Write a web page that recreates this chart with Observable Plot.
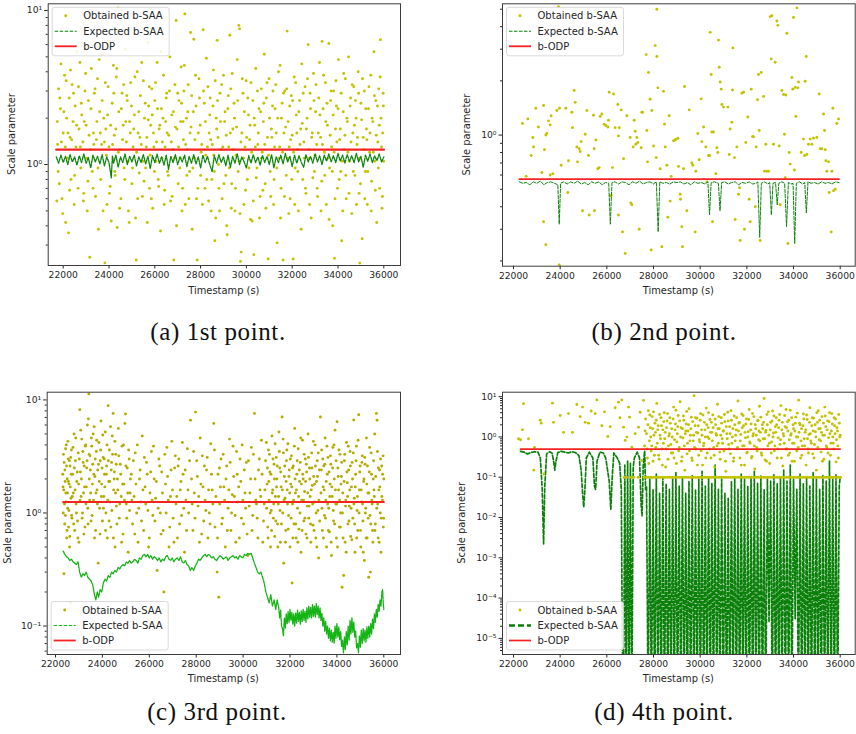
<!DOCTYPE html>
<html><head><meta charset="utf-8">
<script src="https://cdn.jsdelivr.net/npm/d3@7"></script>
<script src="https://cdn.jsdelivr.net/npm/@observablehq/plot@0.6"></script>
<style>
body{margin:0;background:#fff;}
#fig{position:relative;width:856px;height:734px;background:#fff;overflow:hidden;}
.panel{position:absolute;width:428px;height:300px;}
.panel svg{position:absolute;left:0;top:0;overflow:visible;}
.cap{position:absolute;font-family:"Liberation Serif","DejaVu Serif",serif;font-size:25px;letter-spacing:0.6px;color:#111;transform:translate(-50%,-50%);white-space:nowrap;}
</style></head><body><div id="fig"></div>
<script>
// ---------------- DATA ----------------
const legendLabels = ["Obtained b-SAA", "Expected b-SAA", "b-ODP"];
const xLabel = "Timestamp (s)";
const yLabel = "Scale parameter";
const captions = ["(a) 1st point.", "(b) 2nd point.", "(c) 3rd point.", "(d) 4th point."];
const xTicks = [22000, 24000, 26000, 28000, 30000, 32000, 34000, 36000];

// (a) 1st point
const aObtained = [[21720,0.58],[21760,1.35],[21800,3.1],[21830,0.75],[21880,2.3],[21900,4.5],[21950,0.6],[22000,1.6],[22060,3.8],[22110,0.42],[22150,2.0],[22190,1.1],
[22230,0.36],[22260,2.7],[22300,1.5],[22340,0.8],[22390,3.3],[22430,1.9],[22480,0.55],[22520,2.4],[22560,1.3],[22610,5.4],[22650,0.7],[22690,1.7],
[22730,4.6],[22770,0.95],[22810,2.1],[22860,1.4],[22900,0.65],[22950,3.0],[23000,1.8],[23050,0.5],[23100,2.6],[23160,0.25],[23190,1.25],
[23230,4.2],[23270,0.9],[23320,1.6],[23360,2.9],[23410,0.62],[23450,1.45],[23500,3.6],[23540,0.38],[23590,2.2],[23640,0.8],[23680,1.35],
[23720,5.2],[23770,2.0],[23820,0.23],[23860,1.7],[23910,0.55],[23960,3.2],[24000,1.3],[24050,0.72],[24100,0.43],[24140,2.5],[24190,4.4],
[24230,1.55],[24270,0.85],[24320,3.7],[24360,0.39],[24390,10.4],[24430,2.2],[24480,1.25],[24520,0.6],[24570,2.9],[24620,1.8],[24660,0.95],
[24710,5.6],[24760,1.4],[24800,2.6],[24850,0.5],[24900,1.9],[24950,3.4],[25000,0.75],[25050,1.3],[25110,2.1],[25160,0.45],[25190,0.24],
[25230,4.0],[25270,1.6],[25320,0.88],[25370,2.8],[25410,1.35],[25460,0.62],[25500,3.5],[25550,2.0],[25600,0.95],[25650,1.5],[25690,6.2],
[25730,2.4],[25770,0.7],[25820,1.8],[25870,3.1],[25910,0.52],[25960,1.3],[26000,2.6],[26050,1.05],[26100,4.6],[26150,0.8],[26190,1.7],
[26250,0.37],[26290,2.3],[26330,1.4],[26380,3.8],[26430,0.68],[26470,1.9],[26520,2.9],[26560,0.9],[26610,1.55],[26660,5.0],[26690,0.58],
[26740,2.1],[26790,1.25],[26830,0.24],[26880,3.3],[26930,8.6],[26970,1.7],[27020,0.75],[27060,2.6],[27110,1.1],[27150,4.3],[27190,0.5],
[27230,1.9],[27270,3.0],[27310,9.5],[27350,1.35],[27400,0.85],[27440,2.2],[27490,0.6],[27540,1.6],[27560,7.2],[27610,2.8],[27660,0.95],[27705,6.5],
[27750,1.45],[27800,2.4],[27850,0.24],[27880,0.7],[27930,3.6],[27980,1.8],[28030,1.2],[28080,0.55],[28112,7.5],[28160,2.5],
[28230,1.15],[28270,0.8],[28320,3.2],[28370,1.6],[28420,2.7],[28460,0.5],[28510,1.35],[28560,4.1],[28600,0.9],[28622,0.32],[28680,2.0],
[28723,6.4],[28760,1.5],[28800,0.7],[28850,2.9],[28900,1.25],[28940,0.6],[29000,3.8],[29050,1.9],[29100,0.85],[29160,0.35],[29190,2.3],
[29230,1.3],[29276,6.9],[29320,3.1],[29360,0.75],[29410,1.7],[29460,2.5],[29500,0.5],[29550,1.15],[29600,4.8],[29640,0.9],[29669,8.0],[29700,7.6],
[29742,0.235],[29771,0.27],[29800,1.6],[29850,2.9],[29890,0.55],[29940,1.3],[29990,3.5],[30040,0.8],[30090,2.1],[30140,1.45],[30180,0.44],
[30251,0.43],[30280,2.6],[30324,0.26],[30360,1.8],[30410,4.2],[30460,0.95],[30500,1.35],[30550,2.3],[30600,0.62],[30650,3.1],[30690,1.2],
[30740,1.9],[30780,5.2],[30820,0.75],[30870,2.7],[30920,1.5],[30950,0.244],[30990,3.6],[31040,0.9],[31090,1.7],[31140,2.4],[31190,0.55],
[31230,1.3],[31280,3.3],[31343,0.31],[31370,2.0],[31420,1.1],[31470,4.4],[31510,0.7],[31560,2.5],[31600,0.24],[31640,1.6],[31680,3.0],
[31740,0.85],[31780,7.35],[31820,1.9],[31870,1.3],[31910,0.6],[31960,2.8],[32000,1.55],[32042,0.244],[32090,3.7],[32130,0.95],[32180,2.1],
[32230,1.25],[32270,0.5],[32320,2.6],[32370,1.7],[32420,4.5],[32460,0.8],[32510,1.4],[32560,3.2],[32600,0.65],[32650,2.0],[32697,6.0],
[32740,1.1],[32780,2.9],[32830,0.45],[32880,1.6],[32930,3.9],[32970,0.9],[33020,2.2],[33070,1.35],[33110,0.62],[33160,2.7],[33190,4.6],
[33240,1.5],[33290,0.78],[33307,6.3],[33350,2.3],[33400,1.2],[33450,3.4],[33490,0.55],[33540,1.8],[33598,6.1],[33630,0.95],[33680,2.6],
[33720,1.3],[33770,0.4],[33810,3.0],[33846,0.246],[33890,1.7],[33930,2.4],[33980,0.7],[34020,4.8],[34070,1.45],[34120,0.9],[34163,0.32],
[34230,2.2],[34270,1.25],[34320,3.6],[34360,0.6],[34410,1.9],[34460,5.0],[34500,1.05],[34550,2.7],[34600,0.48],[34650,1.6],[34690,3.2],
[34740,0.85],[34790,2.0],[34830,1.35],[34880,4.0],[34920,0.65],[34952,0.229],[35000,2.5],[35054,0.33],[35100,1.5],[35150,3.0],[35190,0.9],
[35240,1.7],[35280,0.55],[35330,2.3],[35380,1.2],[35430,3.8],[35470,0.78],[35520,1.9],[35570,5.4],[35610,1.05],[35650,2.6],[35690,0.42],
[35740,1.4],[35780,3.1],[35820,0.7],[35855,6.45],[35880,2.0],[35920,0.52],[35950,1.6],[35980,2.4]];
const aObtainedMore = [[21740,1.9],[21780,0.9],[21850,2.7],[21920,1.4],[21980,0.48],[22030,2.2],[22090,1.3],[22130,3.5],
[22210,1.6],[22280,0.68],[22320,4.1],[22370,1.45],[22450,2.9],[22500,0.85],[22590,1.8],[22670,3.2],
[22750,1.3],[22790,2.5],[22880,0.58],[22920,1.9],[22980,3.9],[23030,1.1],[23080,0.78],[23130,1.55],
[23210,2.3],[23300,0.7],[23340,1.35],[23390,3.1],[23470,1.9],[23520,0.95],[23570,4.8],[23620,1.6],
[23700,2.6],[23740,0.5],[23800,1.4],[23840,3.4],[23890,1.15],[23940,2.1],[24020,0.65],[24070,1.8],
[24160,1.35],[24210,2.9],[24250,0.9],[24300,1.7],[24340,4.2],[24410,1.2],[24460,0.52],[24540,2.3],
[24590,1.45],[24640,3.3],[24690,0.8],[24730,1.9],[24780,2.8],[24830,1.05],[24880,0.42],[24930,1.6],
[24980,2.4],[25030,0.95],[25080,1.7],[25130,3.7],[25210,1.2],[25250,0.6],[25300,2.2],[25350,1.5],
[25430,4.6],[25480,1.05],[25530,0.78],[25580,2.5],[25630,1.3],[25670,0.42],[25710,1.95],[25760,3.2],
[25800,1.15],[25850,0.6],[25890,2.1],[25940,1.6],[25990,0.9],[26030,3.4],[26080,1.4],[26120,2.3],
[26170,0.72],[26220,1.8],[26270,5.4],[26310,1.1],[26360,2.0],[26410,0.55],[26450,1.3],[26500,2.7],
[26540,1.6],[26590,0.85],[26640,3.0],[26720,1.4],[26760,0.62],[26810,2.2],[26860,1.1],[26900,1.75],
[26950,0.4],[27000,2.9],[27040,1.3],[27090,0.95],[27130,1.9],[27170,2.5],[27210,0.7],[27250,1.45],
[27290,4.4],[27330,0.55],[27380,2.0],[27420,1.25],[27460,3.3],[27520,0.9],[27580,1.75],[27630,0.38],
[27680,2.2],[27730,1.1],[27780,3.8],[27820,0.6],[27900,1.6],[27950,2.7],[28000,0.85],[28050,1.35],
[28130,3.0],[28190,0.7],[28210,1.9],[28250,4.9],[28300,1.3],[28350,0.58],[28400,2.1],[28440,1.45],
[28490,0.8],[28540,2.4],[28580,1.15],[28640,3.5],[28660,0.45],[28700,1.7],[28740,2.6],[28780,1.0],
[28830,0.5],[28870,1.9],[28920,3.3],[28970,1.3],[29020,0.75],[29070,2.2],[29120,1.55],[29140,0.4],
[29210,2.8],[29250,0.95],[29300,1.6],[29340,0.52],[29380,3.9],[29430,1.25],[29480,2.0],[29520,0.7],
[29570,1.75],[29620,2.6],[29680,1.05],[29720,0.48],[29760,1.4],[29820,3.6],[29870,1.1],[29910,2.2],
[29960,0.68],[30010,1.5],[30060,2.7],[30110,0.95],[30160,1.8],[30200,3.4],[30230,1.2],[30300,0.58],
[30340,2.0],[30390,1.3],[30430,0.82],[30480,3.0],[30520,1.6],[30570,0.45],[30620,2.2],[30670,1.1],
[30720,0.68],[30760,2.5],[30800,1.35],[30850,0.52],[30900,3.4],[30970,1.15],[31010,2.0],[31060,0.62],
[31110,1.5],[31160,3.0],[31210,0.8],[31250,2.3],[31300,1.6],[31330,0.95],[31400,4.0],[31450,1.3],
[31490,0.45],[31530,2.0],[31580,1.2],[31620,2.9],[31660,0.62],[31710,1.75],[31760,3.1],[31800,1.1],
[31850,0.48],[31890,2.4],[31930,1.45],[31980,0.8],[32020,2.6],[32060,1.2],[32110,0.55],[32150,3.4],
[32200,1.6],[32250,0.9],[32290,2.2],[32340,1.35],[32390,0.38],[32440,1.85],[32480,2.9],[32530,1.1],
[32580,0.7],[32620,1.7],[32670,3.6],[32720,1.25],[32760,0.55],[32800,2.3],[32850,1.5],[32900,0.82],
[32950,2.6],[33000,1.15],[33040,3.3],[33090,0.7],[33140,1.6],[33210,2.1],[33260,0.5],[33320,1.35],
[33370,3.8],[33420,0.85],[33470,1.9],[33520,2.5],[33560,1.1],[33610,0.44],[33660,1.55],[33700,3.0],
[33750,0.9],[33790,2.1],[33830,1.2],[33870,0.6],[33910,3.5],[33950,1.4],[34000,2.3],[34050,0.8],
[34100,1.7],[34140,2.9],[34190,1.05],[34210,0.5],[34250,3.9],[34300,1.55],[34340,0.85],[34390,2.0],
[34430,1.2],[34480,0.65],[34530,2.4],[34570,1.4],[34620,3.3],[34670,0.9],[34720,1.8],[34760,2.6],
[34810,0.55],[34850,1.5],[34900,2.9],[34940,1.1],[34980,0.75],[35030,1.95],[35070,3.6],[35120,1.25],
[35170,0.6],[35210,2.3],[35260,1.45],[35300,0.9],[35350,3.2],[35400,1.6],[35450,0.5],[35490,2.0],
[35540,1.2],[35590,2.8],[35630,0.68],[35670,1.55],[35720,2.4],[35760,0.95],[35800,1.8],[35840,3.7],
[35900,1.3],[35940,0.62],[35970,2.9],[35990,1.05]];
const aExpected = [[21700,1.12],[21800,1.02],[21900,1.15],[22000,1.03],[22100,1.13],[22200,1.0],[22300,1.16],[22400,1.04],[22500,1.12],[22600,0.99],[22700,1.14],[22800,1.03],[22900,1.17],[23000,1.02],[23100,1.11],[23200,0.95],[23300,1.15],[23400,1.04],[23500,1.13],[23600,1.01],[23700,1.16],[23800,0.98],[23900,1.12],[24000,1.03],[24100,0.82],[24150,1.14],[24200,1.02],[24300,1.15],[24400,0.96],[24500,1.12],[24600,1.03],[24700,1.17],[24800,1.0],[24900,1.13],[25000,1.04],[25100,1.15],[25200,0.98],[25300,1.12],[25400,1.03],[25500,1.16],[25600,1.01],[25700,1.13],[25800,0.94],[25900,1.14],[26000,1.03],[26100,1.17],[26200,1.02],[26300,1.12],[26400,0.99],[26500,1.15],[26600,0.93],[26700,1.13],[26800,1.03],[26900,1.16],[27000,1.0],[27100,1.12],[27200,1.04],[27300,1.15],[27400,0.97],[27500,1.13],[27600,1.02],[27700,1.16],[27800,1.01],[27900,1.12],[28000,0.95],[28100,1.15],[28200,1.03],[28300,1.13],[28400,1.0],[28500,0.9],[28600,1.14],[28700,1.02],[28800,1.16],[28900,1.03],[29000,1.12],[29100,0.98],[29200,1.15],[29300,0.96],[29400,1.13],[29500,1.02],[29600,1.17],[29700,1.0],[29800,1.12],[29900,1.04],[30000,0.95],[30100,1.14],[30200,1.02],[30300,1.16],[30400,1.03],[30500,1.12],[30600,0.99],[30700,1.15],[30800,1.03],[30900,1.13],[31000,1.0],[31100,1.16],[31200,0.95],[31300,1.12],[31400,1.03],[31500,1.15],[31600,1.01],[31700,1.18],[31800,1.04],[31900,1.13],[32000,0.97],[32100,1.15],[32200,1.02],[32300,1.14],[32400,1.03],[32500,0.96],[32600,1.16],[32700,1.04],[32800,1.13],[32900,1.02],[33000,1.17],[33100,1.04],[33200,1.14],[33300,1.0],[33400,1.15],[33500,1.05],[33600,1.17],[33700,1.04],[33800,1.14],[33900,1.03],[34000,1.18],[34100,1.05],[34200,1.15],[34300,1.02],[34400,1.16],[34500,1.05],[34600,1.14],[34700,1.03],[34800,1.18],[34900,1.04],[35000,1.13],[35100,0.96],[35200,1.15],[35300,1.05],[35400,1.17],[35500,1.03],[35600,1.14],[35700,1.06],[35800,1.17],[35900,1.04],[36000,1.12]];
const aODP = [[21700,1.25],[36000,1.25]];

// (b) 2nd point
const bObtained = [[22386,1.16],[22614,1.23],[22543,0.59],[22757,0.77],[22829,0.97],[22857,0.86],[22957,1.41],[23071,1.11],[23214,0.62],[23286,1.46],[23286,0.33],[23329,0.83],[23386,1.0],[23429,1.02],[23500,1.2],[23571,1.14],[23614,1.28],[23386,0.246],[23571,0.6],[23686,0.61],[23857,1.37],[23929,5.17],[23957,0.19],[23971,1.41],[24043,0.68],[24243,1.41],[24329,0.48],[24357,0.72],[24500,1.34],[24529,1.1],[24600,1.77],[24643,1.52],[24714,0.86],[24743,0.71],[24814,0.84],[24857,0.81],[24900,0.92],[24957,0.38],[25071,1.01],[25143,1.37],[25214,0.77],[25243,0.36],[25429,1.29],[25457,0.84],[25471,0.38],[25529,0.94],[25614,0.65],[25671,0.66],[25714,1.27],[25786,1.31],[25886,1.15],[25957,1.13],[26043,1.11],[26071,1.21],[26100,1.73],[26143,0.46],[26186,0.46],[26243,0.66],[26286,1.69],[26357,1.1],[26471,1.48],[26500,0.99],[26529,1.1],[26614,1.38],[26500,0.36],[26671,0.29],[26714,0.74],[26786,0.22],[26857,1.28],[27000,0.97],[27029,0.42],[27071,0.41],[27129,0.86],[27171,1.21],[27214,1.05],[27243,0.89],[27286,0.97],[27329,0.91],[27386,0.3],[27471,0.85],[27500,1.34],[27529,1.34],[27686,2.8],[27714,1.06],[27743,0.71],[27786,2.23],[27857,1.58],[27900,0.23],[27929,1.37],[28000,0.87],[28071,3.14],[28114,0.75],[28143,5.0],[28143,2.73],[28186,1.83],[28286,0.65],[28357,0.24],[28429,1.75],[28471,1.15],[28500,0.86],[28571,0.68],[28614,0.35],[28671,1.28],[28714,0.43],[28757,0.59],[28857,0.93],[28929,0.94],[28957,0.95],[29043,0.96],[29071,0.67],[29143,0.47],[29157,0.44],[29214,0.31],[29243,0.24],[29286,0.65],[29329,1.86],[29429,0.38],[29529,1.38],[29643,0.7],[29686,0.68],[29786,0.29],[29814,0.63],[29900,1.02],[29957,0.73],[30043,1.59],[30071,0.92],[30143,1.11],[30243,0.86],[30286,0.55],[30357,0.77],[30400,0.77],[30429,3.72],[30471,2.17],[30500,1.04],[30529,0.33],[30571,1.04],[30671,0.61],[30714,0.85],[30757,0.8],[30786,3.37],[30814,2.38],[30857,1.97],[30900,1.8],[30929,1.48],[31000,1.43],[31186,1.43],[31243,0.78],[31286,1.08],[31357,1.18],[31386,1.78],[31400,3.05],[31471,0.75],[31500,0.34],[31571,0.86],[31643,0.47],[31686,0.51],[31714,0.26],[31786,1.71],[31857,1.73],[31900,0.3],[31957,0.91],[32000,0.18],[32043,1.26],[32100,0.44],[32143,0.33],[32186,1.8],[32243,0.98],[32286,0.98],[32357,0.4],[32400,0.86],[32457,1.57],[32500,2.17],[32529,1.06],[32571,0.26],[32614,2.23],[32714,1.64],[32757,0.63],[32814,0.89],[32857,0.63],[32929,0.63],[33000,4.55],[33043,2.65],[33071,4.6],[33143,0.89],[33214,2.54],[33286,4.3],[33329,4.07],[33386,0.87],[33429,0.41],[33500,1.77],[33571,1.68],[33614,1.01],[33643,0.58],[33671,1.67],[33714,3.68],[33757,0.25],[33814,0.8],[33857,0.69],[33929,2.09],[33971,1.8],[34000,4.5],[34043,0.64],[34071,1.84],[34100,1.27],[34143,5.09],[34186,1.83],[34214,1.97],[34329,0.8],[34429,0.95],[34471,0.77],[34500,1.99],[34543,2.73],[34571,0.78],[34643,0.89],[34714,0.95],[34786,0.89],[34857,0.96],[35000,0.97],[35100,1.69],[35143,0.84],[35214,0.84],[35286,1.31],[35329,1.06],[35357,0.83],[35386,0.72],[35429,0.63],[35500,0.71],[35529,0.48],[35614,0.29],[35643,0.63],[35686,1.41],[35714,0.49],[35786,0.5],[35857,1.16],[35929,1.23]];
const bExpected = [[22250,0.55],[22400,0.54],[22550,0.545],[22700,0.53],[22850,0.55],[23000,0.54],[23150,0.555],[23300,0.53],[23450,0.545],[23600,0.55],[23750,0.54],[23900,0.53],[23960,0.32],[24020,0.54],[24150,0.55],[24300,0.535],[24450,0.55],[24600,0.54],[24750,0.555],[24900,0.535],[25050,0.545],[25200,0.53],[25350,0.55],[25500,0.54],[25650,0.55],[25800,0.53],[25950,0.545],[26080,0.54],[26150,0.32],[26220,0.545],[26350,0.55],[26500,0.535],[26650,0.55],[26800,0.545],[26950,0.53],[27100,0.55],[27250,0.54],[27400,0.555],[27550,0.535],[27700,0.545],[27850,0.55],[28000,0.535],[28120,0.55],[28200,0.29],[28270,0.55],[28400,0.54],[28550,0.545],[28700,0.535],[28850,0.55],[29000,0.545],[29150,0.55],[29300,0.535],[29450,0.545],[29600,0.53],[29750,0.55],[29900,0.54],[30050,0.545],[30200,0.535],[30330,0.55],[30400,0.36],[30470,0.545],[30600,0.55],[30780,0.54],[30850,0.38],[30920,0.545],[31050,0.55],[31200,0.535],[31350,0.545],[31500,0.55],[31650,0.53],[31800,0.545],[31950,0.54],[32100,0.55],[32250,0.535],[32400,0.54],[32470,0.55],[32550,0.27],[32620,0.54],[32750,0.55],[32900,0.535],[32980,0.545],[33050,0.36],[33120,0.54],[33230,0.545],[33300,0.41],[33370,0.54],[33500,0.55],[33620,0.54],[33700,0.31],[33780,0.545],[33900,0.535],[33980,0.54],[34050,0.25],[34120,0.54],[34250,0.55],[34400,0.535],[34480,0.545],[34550,0.37],[34620,0.55],[34750,0.54],[34900,0.545],[35050,0.535],[35200,0.55],[35350,0.54],[35500,0.545],[35650,0.535],[35800,0.55],[35950,0.545]];
const bODP = [[22250,0.57],[35950,0.57]];

// (c) 3rd point
const cObtained = [[22320,1.7],[22340,3.3],[22360,0.29],[22380,1.2],[22400,2.4],[22420,0.95],[22440,1.5],[22460,4.0],[22480,0.6],[22500,2.0],[22520,1.1],[22540,3.0],[22560,0.75],[22580,1.8],[22600,0.5],[22620,2.6],[22640,0.16],[22660,1.35],[22680,3.6],[22700,0.9],[22730,2.2],[22760,1.5],[22790,5.0],[22820,0.7],[22850,2.9],[22880,1.2],[22910,1.9],[22940,0.85],[22970,3.4],[23000,0.55],[23037,8.2],[23060,2.3],[23090,1.4],[23120,4.5],[23150,1.0],[23180,2.8],[23210,0.65],[23240,1.7],[23270,3.9],[23300,1.2],[23330,2.5],[23360,6.0],[23390,0.8],[23420,11.3],[23440,2.0],[23470,3.2],[23500,1.5],[23530,4.6],[23560,0.95],[23590,2.7],[23620,1.3],[23650,5.8],[23680,2.1],[23710,0.7],[23740,3.5],[23770,1.6],[23800,2.4],[23820,0.36],[23850,4.2],[23880,1.1],[23910,2.9],[23940,6.5],[23970,1.8],[24000,0.85],[24030,3.1],[24060,1.4],[24090,2.2],[24120,5.2],[24150,1.0],[24180,2.6],[24210,0.6],[24245,8.9],[24270,1.9],[24300,3.6],[24330,1.25],[24360,0.75],[24390,2.8],[24420,4.8],[24458,7.6],[24480,1.6],[24510,2.3],[24540,0.5],[24570,3.3],[24600,1.15],[24640,2.0],[24680,5.6],[24720,0.9],[24760,2.7],[24800,1.4],[24840,3.9],[24880,0.65],[24920,1.8],[24960,6.2],[24984,7.5],[25020,1.2],[25060,2.5],[25100,0.45],[25140,3.0],[25180,1.5],
[25230,2.2],[25290,0.8],[25350,1.4],[25400,3.4],[25460,1.0],[25520,0.55],[25580,2.0],[25640,1.25],[25700,4.8],[25760,0.7],[25820,1.7],[25880,2.8],[25940,1.05],[26000,0.6],[26060,2.3],[26120,1.3],[26180,3.9],[26240,0.85],[26300,1.9],[26334,0.31],[26380,1.1],[26440,2.6],[26500,0.65],[26560,1.5],[26620,0.2],[26660,3.3],[26720,1.0],[26780,2.1],[26840,0.5],[26900,1.4],[26960,4.3],[27020,0.9],[27080,2.5],[27140,1.2],[27200,0.6],[27260,3.0],[27320,1.6],[27380,0.95],[27440,2.2],[27500,0.45],[27560,1.3],[27620,3.7],[27680,1.0],[27755,6.6],[27800,2.0],[27860,0.7],[27920,1.5],[27968,7.8],[28020,2.9],[28080,1.15],[28140,0.55],[28200,1.8],[28260,3.2],[28320,0.85],[28380,1.3],[28440,2.4],[28500,0.6],[28560,1.0],[28620,4.1],[28680,1.6],[28750,6.2],[28800,0.75],[28890,0.3],[28930,2.2],[28963,0.18],[29000,1.2],[29060,3.0],[29120,0.9],[29180,1.7],[29240,0.5],[29300,2.6],[29360,1.1],[29420,4.5],[29480,0.7],[29540,1.45],[29600,2.1],[29660,0.95],[29720,3.5],[29780,1.25],[29840,0.6],[29900,1.9],[29960,4.0],[30020,0.8],[30080,1.5],[30140,2.8],[30200,0.42],[30260,1.15],[30320,2.0],[30380,0.7],[30440,3.3],[30485,7.6],[30540,1.3],[30600,0.9],[30660,2.4],[30720,1.6],[30780,4.4],[30840,0.55],[30900,1.2],[30960,2.9],
[31020,1.8],[31050,0.75],[31080,3.6],[31110,1.3],[31140,2.3],[31170,0.5],[31200,1.05],[31230,4.8],[31260,1.6],[31290,0.9],[31320,2.7],[31350,0.62],[31380,1.4],[31410,3.1],[31440,2.0],[31470,0.8],[31500,1.2],[31530,5.2],[31560,2.5],[31590,0.55],[31620,1.7],[31663,7.05],[31690,1.0],[31720,3.4],[31734,0.36],[31760,2.1],[31790,1.35],[31820,0.7],[31850,2.9],[31880,1.6],[31910,4.1],[31940,0.95],[31970,2.4],[32000,0.5],[32030,1.8],[32060,3.2],[32090,0.24],[32110,1.2],[32140,2.6],[32170,0.8],[32200,5.6],[32230,1.5],[32260,0.6],[32290,2.2],[32320,1.1],[32350,3.7],[32380,0.72],[32410,1.9],[32440,2.8],[32470,0.45],[32500,1.3],[32530,4.4],[32560,2.0],[32590,0.85],[32620,1.55],[32650,3.0],[32680,0.65],[32710,2.3],[32740,1.15],[32770,5.0],[32800,0.9],[32830,2.5],[32860,1.4],[32890,0.55],[32920,3.4],[32950,1.75],[32980,0.78],[33010,2.1],[33040,1.25],[33070,4.0],[33100,0.6],[33130,1.9],[33160,2.9],[33190,1.05],[33220,0.4],[33250,2.4],[33297,7.05],[33320,1.5],[33350,3.6],[33380,0.7],[33410,1.7],[33440,2.6],[33470,0.95],[33500,4.6],[33530,1.3],[33560,0.5],[33590,2.2],[33620,3.1],[33650,1.1],[33680,0.68],[33710,1.8],[33740,2.7],[33770,0.42],[33800,1.4],[33830,3.8],[33860,0.85],[33890,2.0],[33920,5.4],[33950,1.2],[33980,0.6],[34007,6.4],[34040,2.5],[34070,1.6],[34100,0.75],[34130,3.3],[34160,1.0],[34190,2.1],[34220,0.22],[34250,1.5],[34290,0.28],[34320,2.9],[34350,0.55],[34380,1.3],[34410,4.2],[34440,1.85],[34470,0.8],[34500,2.4],[34530,1.15],[34560,3.5],[34590,0.62],[34620,1.7],[34650,2.8],[34680,0.9],[34718,6.65],[34740,1.35],[34770,0.45],[34800,2.2],[34830,3.9],[34860,1.05],[34890,0.7],[34930,7.4],[34960,1.6],[34990,2.6],[35020,0.5],[35050,1.25],[35080,3.2],[35110,0.85],[35140,1.9],[35170,0.38],[35200,2.7],[35230,1.1],[35260,4.6],[35290,0.6],[35320,1.5],[35357,0.27],[35380,2.3],[35410,0.95],[35430,0.3],[35460,3.4],[35490,1.3],[35520,0.7],[35550,2.0],[35580,1.6],[35610,5.0],[35640,0.8],[35683,7.6],[35712,6.6],[35740,1.2],[35770,2.5],[35800,0.55],[35830,1.7],[35860,3.0],[35890,0.9],[35920,1.4],[35950,2.2],[35980,0.75],[36000,2.0]];
const cObtainedMore = [[22310,2.2],[22330,1.0],[22350,1.6],[22370,2.8],[22390,0.8],[22410,1.9],[22430,3.7],[22450,1.25],[22470,2.6],[22490,0.7],[22510,1.5],[22530,4.3],[22550,1.9],[22570,1.05],[22590,2.9],[22610,0.62],[22630,1.7],[22650,3.1],[22670,2.2],[22690,0.95],[22715,1.4],[22745,3.8],[22775,0.8],[22805,2.5],[22835,1.6],[22865,4.6],[22895,1.0],[22925,2.3],[22955,0.6],[22985,1.8],[23015,3.0],[23045,1.3],[23075,5.4],[23105,2.0],[23135,0.9],[23165,3.5],[23195,1.5],[23225,2.6],[23255,0.75],[23285,4.0],[23315,1.7],[23345,2.9],[23375,1.1],[23405,6.8],[23435,3.3],[23455,1.3],[23485,2.4],[23515,0.85],[23545,3.9],[23575,1.8],[23605,5.0],[23635,2.2],[23665,0.6],[23695,3.0],[23725,1.5],[23755,4.4],[23785,1.2],[23835,2.7],[23865,1.9],[23895,0.65],[23925,3.6],[23955,1.4],[23985,2.5],[24015,4.9],[24045,1.1],[24075,3.0],[24105,1.7],[24135,0.7],[24165,2.2],[24195,4.0],[24225,1.3],[24255,2.9],[24285,0.85],[24315,1.9],[24345,5.8],[24375,2.4],[24405,1.05],[24435,3.3],[24470,0.6],[24500,2.0],[24530,4.3],[24560,1.5],[24590,2.7],[24620,0.8],[24660,1.6],[24700,3.2],[24740,1.2],[24780,2.2],[24820,0.55],[24860,1.8],[24900,4.0],[24940,1.3],[25000,2.6],[25040,0.9],[25080,1.5],[25120,3.6],[25160,1.05],[25195,2.0],
[25260,1.3],[25320,2.9],[25380,0.65],[25430,1.8],[25490,4.0],[25550,1.1],[25610,2.4],[25670,0.85],[25730,1.6],[25790,3.1],[25850,1.2],[25910,2.2],[25970,0.5],[26030,1.5],[26090,3.5],[26150,0.95],[26210,2.0],[26270,1.35],[26410,3.0],[26470,1.0],[26530,2.3],[26590,0.7],[26690,1.8],[26750,3.8],[26810,1.3],[26870,0.75],[26930,2.4],[26990,1.6],[27050,0.55],[27110,3.2],[27170,1.4],[27230,2.6],[27290,0.8],[27350,1.9],[27410,4.2],[27470,1.1],[27530,2.4],[27590,0.7],[27650,1.6],[27720,2.9],[27830,1.2],[27890,3.5],[27950,0.9],[28050,2.1],[28110,1.4],[28170,4.6],[28230,0.65],[28290,1.7],[28350,2.6],[28410,1.05],[28470,3.1],[28530,1.6],[28590,0.8],[28650,2.2],[28710,1.2],[28780,3.6],[28840,1.4],[28910,0.6],[28990,2.5],[29030,1.7],[29090,0.8],[29150,3.3],[29210,1.3],[29270,2.0],[29330,0.7],[29390,1.6],[29450,2.8],[29510,1.0],[29570,3.9],[29630,1.4],[29690,0.55],[29750,2.2],[29810,1.7],[29870,3.0],[29930,0.9],[29990,1.3],[30050,2.4],[30110,1.1],[30170,0.65],[30230,2.9],[30290,1.5],[30350,3.8],[30410,0.95],[30510,2.0],[30570,1.2],[30630,0.6],[30690,3.0],[30750,1.4],[30810,2.2],[30870,0.85],[30930,1.6],[30990,4.2],
[31005,1.1],[31035,2.5],[31065,0.6],[31095,1.9],[31125,3.3],[31155,1.0],[31185,2.2],[31215,0.7],[31245,1.5],[31275,3.0],[31305,1.2],[31335,2.0],[31365,4.1],[31395,0.85],[31425,1.7],[31455,2.6],[31485,0.5],[31515,1.4],[31545,3.5],[31575,1.05],[31605,2.3],[31635,0.8],[31675,1.6],[31705,4.5],[31745,1.3],[31775,2.6],[31805,0.55],[31835,1.9],[31865,3.6],[31895,1.2],[31925,0.72],[31955,2.1],[31985,1.5],[32015,3.0],[32045,0.9],[32075,1.7],[32105,2.5],[32125,0.6],[32155,1.3],[32185,3.9],[32215,2.0],[32245,0.8],[32275,1.6],[32305,2.9],[32335,0.55],[32365,1.4],[32395,2.4],[32425,1.0],[32455,4.6],[32485,1.8],[32515,0.7],[32545,2.2],[32575,1.3],[32605,3.3],[32635,0.9],[32665,1.9],[32695,2.7],[32725,0.6],[32755,1.5],[32785,3.1],[32815,1.15],[32845,2.0],[32875,0.8],[32905,1.6],[32935,2.5],[32965,1.2],[32995,4.3],[33025,0.7],[33055,1.8],[33085,2.6],[33115,1.0],[33145,0.5],[33175,2.1],[33205,3.4],[33235,1.3],[33265,0.85],[33335,2.4],[33365,1.1],[33395,3.0],[33425,0.6],[33455,1.6],[33485,2.7],[33515,0.9],[33545,1.9],[33575,3.9],[33605,1.2],[33635,0.7],[33665,2.3],[33695,1.4],[33725,3.2],[33755,0.55],[33785,1.7],[33815,2.5],[33845,1.05],[33875,4.0],[33905,0.8],[33935,1.6],[33965,2.9],[33995,1.2],[34025,0.5],[34055,2.1],[34085,3.6],[34115,1.3],[34145,0.75],[34175,1.8],[34205,2.8],[34235,1.0],[34265,0.6],[34305,1.9],[34335,3.3],[34365,1.15],[34395,0.45],[34425,2.3],[34455,1.4],[34485,3.9],[34515,0.85],[34545,1.6],[34575,2.6],[34605,1.1],[34635,0.58],[34665,2.0],[34695,3.4],[34725,1.2],[34755,0.8],[34785,1.7],[34815,2.9],[34845,0.6],[34875,1.4],[34905,4.4],[34945,1.0],[34975,2.3],[35005,0.7],[35035,1.6],[35065,2.8],[35095,1.2],[35125,0.45],[35155,2.0],[35185,3.1],[35215,1.0],[35245,0.6],[35275,1.8],[35305,2.6],[35335,0.9],[35365,1.5],[35395,3.8],[35445,0.8],[35475,2.2],[35505,1.2],[35535,0.55],[35565,2.9],[35595,1.4],[35625,0.7],[35655,2.1],[35700,1.1],[35730,3.5],[35760,0.6],[35790,1.6],[35820,2.4],[35850,1.0],[35880,0.45],[35910,2.6],[35940,1.3],[35970,3.2],[35990,0.9]];
const cExpected = [[22330,0.46],[22400,0.43],[22470,0.41],[22540,0.4],[22610,0.38],[22680,0.39],[22750,0.37],[22820,0.36],[22890,0.35],[22960,0.37],[23030,0.3],[23100,0.27],[23170,0.29],[23240,0.28],[23310,0.3],[23380,0.27],[23450,0.26],[23520,0.25],[23590,0.23],[23660,0.19],[23720,0.17],[23780,0.2],[23840,0.18],[23900,0.21],[23970,0.2],[24040,0.24],[24110,0.26],[24180,0.25],[24250,0.28],[24320,0.27],[24390,0.3],[24460,0.29],[24530,0.31],[24600,0.3],[24670,0.33],[24740,0.32],[24810,0.34],[24880,0.35],[24950,0.34],[25020,0.37],[25090,0.36],[25160,0.38],[25230,0.36],[25300,0.37],[25370,0.39],[25440,0.38],[25510,0.36],[25580,0.4],[25650,0.39],[25720,0.42],[25790,0.43],[25860,0.41],[25930,0.43],[26000,0.4],[26070,0.42],[26140,0.39],[26210,0.41],[26280,0.4],[26350,0.38],[26420,0.4],[26490,0.37],[26560,0.39],[26630,0.38],[26700,0.41],[26770,0.42],[26840,0.39],[26910,0.38],[26980,0.4],[27050,0.37],[27120,0.39],[27190,0.4],[27260,0.38],[27330,0.41],[27400,0.37],[27470,0.36],[27540,0.38],[27610,0.35],[27680,0.34],[27750,0.31],[27820,0.33],[27890,0.31],[27960,0.34],[28030,0.36],[28100,0.39],[28170,0.38],[28240,0.4],[28310,0.42],[28380,0.43],[28450,0.41],[28520,0.43],[28590,0.42],[28660,0.4],[28730,0.41],[28800,0.39],[28870,0.38],[28940,0.4],[29010,0.42],[29080,0.41],[29150,0.39],[29220,0.4],[29290,0.41],[29360,0.38],[29430,0.4],[29500,0.41],[29570,0.42],[29640,0.4],[29710,0.41],[29780,0.39],[29850,0.42],[29920,0.41],[29990,0.4],[30060,0.43],[30130,0.42],[30200,0.44],[30270,0.43],[30340,0.44],[30410,0.4],[30480,0.36],[30550,0.33],[30620,0.3],[30690,0.29],[30760,0.3],[30830,0.27],[30900,0.24],[30970,0.2],[31040,0.18],[31110,0.16],[31180,0.19],[31250,0.15],[31320,0.17],[31390,0.14],[31450,0.17],
[31520,0.145],[31560,0.118],[31600,0.138],[31640,0.1],[31680,0.095],[31720,0.082],[31760,0.118],[31800,0.096],[31840,0.128],[31880,0.105],[31920,0.134],[31960,0.108],[32000,0.14],[32040,0.112],[32080,0.132],[32120,0.104],[32160,0.128],[32200,0.1],[32240,0.13],[32280,0.106],[32320,0.138],[32360,0.11],[32400,0.132],[32440,0.104],[32480,0.136],[32520,0.11],[32560,0.14],[32600,0.112],[32640,0.135],[32680,0.108],[32720,0.145],[32760,0.115],[32800,0.15],[32840,0.12],[32880,0.146],[32920,0.118],[32960,0.155],[33000,0.122],[33040,0.15],[33080,0.12],[33120,0.158],[33160,0.126],[33200,0.15],[33240,0.118],[33280,0.145],[33320,0.112],[33360,0.13],[33400,0.1],[33440,0.118],[33480,0.09],[33520,0.11],[33560,0.085],[33600,0.1],[33640,0.078],[33680,0.096],[33720,0.074],[33760,0.092],[33800,0.072],[33840,0.088],[33880,0.07],[33920,0.1],[33960,0.078],[34000,0.105],[34040,0.08],[34080,0.098],[34120,0.075],[34160,0.09],[34200,0.066],[34240,0.075],[34280,0.058],[34320,0.08],[34360,0.062],[34400,0.09],[34440,0.068],[34480,0.1],[34520,0.075],[34560,0.112],[34600,0.085],[34640,0.118],[34680,0.088],[34720,0.108],[34760,0.08],[34800,0.09],[34840,0.064],[34880,0.07],[34920,0.058],[34960,0.082],[35000,0.065],[35040,0.092],[35080,0.07],[35120,0.095],[35160,0.074],[35200,0.092],[35240,0.072],[35280,0.098],[35320,0.078],[35360,0.1],[35400,0.08],[35440,0.105],[35480,0.085],[35520,0.115],[35560,0.095],[35600,0.128],[35640,0.108],[35680,0.14],[35720,0.12],[35760,0.155],[35800,0.135],[35840,0.17],[35880,0.15],[35920,0.2],[35950,0.21],[35975,0.16],[36000,0.14]];
const cODP = [[22330,1.25],[36000,1.25]];

// (d) 4th point
const dObtained = [[22214,0.9],[22300,0.85],[22386,1.5],[22429,6.7],[22643,0.9],[22871,0.15],[22900,0.55],[23143,2.6],[23186,2.2],[23300,0.12],[23671,6.9],[23714,2.3],[24000,3.4],[24143,1.3],[24357,3.8],[24529,1.3],[24714,6.4],[24857,3.2],[24957,5.5],[25071,2.3],[25214,2.2],[25329,4.4],[25500,3.8],[25571,8.3],[25786,1.9],[25900,4.2],[26043,1.03],[26143,1.8],[26357,5.3],[26500,7.3],[26560,3.0],[26643,8.3],[26714,1.75],[26786,0.82],[26857,0.99],[26929,5.5],[26971,3.1],[27071,0.56],[27214,1.2],[27357,1.75],[27429,4.1],[27500,0.26],[27571,8.1],
[27620,0.6],[27660,2.8],[27700,1.2],[27740,0.3],[27780,4.5],[27820,0.8],[27860,1.7],[27900,0.45],[27940,3.2],[27980,0.25],[28020,1.1],[28060,2.2],[28100,0.55],[28140,6.8],[28180,1.5],[28220,0.35],[28260,3.6],[28300,0.9],[28340,1.9],[28380,0.2],[28420,0.7],[28460,4.0],[28500,1.3],[28540,0.5],[28580,2.5],[28620,0.28],[28660,1.05],[28700,3.0],[28740,0.65],[28780,1.6],[28820,0.4],[28860,5.5],[28900,0.85],[28940,2.1],[28980,0.22],[29020,1.2],[29060,3.4],[29100,0.55],[29140,7.5],[29180,1.7],[29220,0.32],[29260,0.95],[29300,2.6],[29340,0.15],[29380,1.4],[29420,4.3],[29460,0.7],[29500,2.0],[29540,0.45],[29580,1.1],[29620,3.1],[29660,0.26],[29700,0.8],[29740,10.5],[29780,1.9],[29820,0.5],[29860,2.9],[29900,1.25],[29940,0.35],[29980,0.75],[30020,3.8],[30060,1.5],[30100,0.2],[30140,0.6],[30180,2.3],[30220,1.0],[30260,5.2],[30300,0.4],[30340,1.7],[30380,0.9],[30420,2.7],[30460,0.3],[30500,1.3],[30540,3.5],[30580,0.55],[30620,0.18],[30660,2.0],[30700,1.1],[30740,6.5],[30780,0.7],[30820,1.6],[30860,0.28],[30900,3.0],[30940,0.9],[30980,1.4],[31020,0.45],[31060,2.4],[31100,0.14],[31140,1.2],[31180,4.1],[31220,0.65],[31260,1.8],[31300,0.38],[31340,2.6],[31380,1.0],[31420,0.25],[31460,3.3],[31500,0.8],[31540,1.5],[31580,0.5],[31620,7.8],[31660,2.2],[31700,0.3],[31740,1.15],[31780,3.7],[31820,0.6],[31860,1.9],[31900,0.2],[31940,0.95],[31980,2.8],[32020,0.42],[32060,1.35],[32100,4.8],[32140,0.7],[32180,2.1],[32220,0.33],[32260,1.05],[32300,3.2],[32340,0.16],[32380,1.6],[32420,0.55],[32460,2.5],[32500,0.85],[32540,5.8],[32580,1.3],[32620,0.4],[32660,2.0],[32700,0.9],[32740,9.0],[32780,0.27],[32820,1.45],[32860,3.6],[32900,0.6],[32940,1.1],[32980,0.22],[33020,2.3],[33060,0.75],[33100,4.4],[33140,1.25],[33180,0.45],[33220,1.8],[33260,3.0],[33300,0.3],[33340,0.95],[33380,2.6],[33420,0.65],[33460,6.0],[33500,1.5],[33540,0.19],[33580,1.05],[33620,3.4],[33660,0.5],[33700,1.7],[33740,2.4],[33780,0.35],[33820,0.85],[33860,4.6],[33900,1.2],[33940,0.25],[33980,2.0],[34020,0.7],[34060,1.4],[34100,3.1],[34140,0.45],[34180,1.0],[34220,8.2],[34260,2.2],[34300,0.3],[34340,1.6],[34380,0.6],[34420,3.7],[34460,0.9],[34500,1.3],[34540,0.2],[34580,2.7],[34620,0.5],[34660,1.15],[34700,5.3],[34740,0.8],[34780,1.9],[34820,0.38],[34860,2.9],[34900,0.65],[34940,1.35],[34980,0.15],[35020,2.3],[35060,4.5],[35100,0.85],[35140,1.6],[35180,0.42],[35220,3.2],[35260,1.1],[35300,0.28],[35340,5.5],[35380,1.8],[35420,0.55],[35460,2.5],[35500,0.95],[35540,4.0],[35580,0.35],[35620,1.4],[35660,2.1],[35700,0.7],[35740,3.0],[35780,1.2],[35820,0.24],[35860,1.7],[35900,0.6],[35940,3.6],[35980,1.0]];
const dObtainedMore = [[27640,1.4],[27720,0.5],[27760,2.0],[27800,0.22],[27840,3.5],[27880,1.0],[27920,0.6],[27960,1.6],[28000,4.2],[28040,0.35],[28080,1.3],[28120,2.6],[28160,0.7],[28200,1.9],[28240,0.28],[28280,1.1],[28320,3.0],[28360,0.5],[28400,1.5],[28440,2.4],[28480,0.9],[28520,0.18],[28560,1.7],[28600,3.8],[28640,0.6],[28680,1.2],[28720,2.2],[28760,0.4],[28800,1.0],[28840,2.8],[28880,0.3],[28920,1.5],[28960,4.6],[29000,0.75],[29040,1.8],[29080,0.45],[29120,2.5],[29160,1.0],[29200,0.25],[29240,1.6],[29280,3.3],[29320,0.6],[29360,1.2],[29400,2.1],[29440,0.38],[29480,1.4],[29520,5.0],[29560,0.8],[29600,1.6],[29640,0.3],[29680,2.4],[29720,1.1],[29760,0.55],[29800,3.0],[29840,1.3],[29880,0.2],[29920,1.9],[29960,0.85],[30000,2.6],[30040,0.45],[30080,1.1],[30120,3.5],[30160,0.7],[30200,1.5],[30240,0.3],[30280,2.0],[30320,1.0],[30360,4.0],[30400,0.5],[30440,1.3],[30480,2.3],[30520,0.8],[30560,1.7],[30600,0.35],[30640,2.8],[30680,1.2],[30720,0.6],[30760,1.6],[30800,3.2],[30840,0.42],[30880,1.1],[30920,2.2],[30960,0.7],[31000,1.4],[31040,3.6],[31080,0.25],[31120,1.8],[31160,0.9],[31200,2.5],[31240,0.5],[31280,1.2],[31320,4.5],[31360,0.7],[31400,1.6],[31440,0.3],[31480,2.0],[31520,1.1],[31560,3.0],[31600,0.55],[31640,1.4],[31680,2.3],[31720,0.8],[31760,0.2],[31800,1.7],[31840,3.4],[31880,0.6],[31920,1.3],[31960,2.1],[32000,0.4],[32040,1.0],[32080,2.7],[32120,0.75],[32160,1.5],[32200,0.3],[32240,3.8],[32280,1.2],[32320,0.6],[32360,2.0],[32400,1.1],[32440,0.45],[32480,2.6],[32520,1.4],[32560,0.8],[32600,3.1],[32640,0.35],[32680,1.6],[32720,2.3],[32760,0.9],[32800,1.3],[32840,0.25],[32880,2.0],[32920,4.2],[32960,0.7],[33000,1.5],[33040,0.4],[33080,2.5],[33120,1.0],[33160,3.3],[33200,0.6],[33240,1.3],[33280,2.0],[33320,0.5],[33360,1.7],[33400,3.6],[33440,0.85],[33480,0.3],[33520,2.3],[33560,1.2],[33600,0.7],[33640,1.8],[33680,4.8],[33720,0.5],[33760,1.4],[33800,2.6],[33840,0.4],[33880,1.1],[33920,3.0],[33960,0.7],[34000,1.6],[34040,0.25],[34080,2.2],[34120,1.0],[34160,3.9],[34200,0.55],[34240,1.3],[34280,2.0],[34320,0.8],[34360,0.35],[34400,1.9],[34440,2.8],[34480,0.6],[34520,1.5],[34560,3.5],[34600,0.9],[34640,0.4],[34680,2.3],[34720,1.2],[34760,0.7],[34800,3.0],[34840,1.4],[34880,0.3],[34920,2.0],[34960,1.0],[35000,4.0],[35040,0.55],[35080,1.6],[35120,2.6],[35160,0.8],[35200,1.3],[35240,0.25],[35280,2.2],[35320,1.1],[35360,3.3],[35400,0.6],[35440,1.5],[35480,0.4],[35520,2.4],[35560,1.2],[35600,0.7],[35640,3.8],[35680,1.0],[35720,0.5],[35760,1.9],[35800,2.8],[35840,0.85],[35880,1.4],[35920,0.3],[35960,2.2],[36000,1.1]];
const dObtainedFloor = [[26750,0.1],[26850,0.1],[27050,0.1],[27150,0.1],[27350,0.1],[27600,0.1],[27700,0.1],[27800,0.1],[27900,0.1],[28000,0.1],[28100,0.1],[28200,0.1],[28300,0.1],[28400,0.1],[28500,0.1],[28600,0.1],[28700,0.1],[28800,0.1],[28900,0.1],[29000,0.1],[29100,0.1],[29200,0.1],[29300,0.1],[29400,0.1],[29500,0.1],[29600,0.1],[29700,0.1],[29800,0.1],[29900,0.1],[30000,0.1],[30100,0.1],[30200,0.1],[30300,0.1],[30400,0.1],[30500,0.1],[30600,0.1],[30700,0.1],[30800,0.1],[30900,0.1],[31000,0.1],[31100,0.1],[31200,0.1],[31300,0.1],[31400,0.1],[31500,0.1],[31600,0.1],[31700,0.1],[31800,0.1],[31900,0.1],[32000,0.1],[32100,0.1],[32200,0.1],[32300,0.1],[32400,0.1],[32500,0.1],[32600,0.1],[32700,0.1],[32800,0.1],[32900,0.1],[33000,0.1],[33100,0.1],[33200,0.1],[33300,0.1],[33400,0.1],[33500,0.1],[33600,0.1],[33700,0.1],[33800,0.1],[33900,0.1],[34000,0.1],[34100,0.1],[34200,0.1],[34300,0.1],[34400,0.1],[34500,0.1],[34600,0.1],[34700,0.1],[34800,0.1],[34900,0.1],[35000,0.1],[35100,0.1],[35200,0.1],[35300,0.1],[35400,0.1],[35500,0.1],[35600,0.1],[35700,0.1],[35800,0.1],[35900,0.1],[36000,0.1]];
const dExpected = [[22300,0.44],[22450,0.42],[22600,0.38],[22750,0.41],[22900,0.43],[23050,0.42],[23150,0.3],[23230,0.05],[23290,0.0022],[23340,0.06],[23420,0.38],[23550,0.43],[23650,0.4],[23720,0.25],[23770,0.15],[23820,0.25],[23900,0.41],[24050,0.44],[24200,0.42],[24350,0.4],[24500,0.43],[24650,0.41],[24800,0.35],[24900,0.15],[24960,0.04],[25010,0.018],[25060,0.05],[25120,0.3],[25250,0.42],[25400,0.3],[25470,0.06],[25520,0.05],[25580,0.25],[25700,0.42],[25850,0.4],[25950,0.3],[26000,0.2],[26100,0.08],[26170,0.016],[26230,0.1],[26300,0.4],[26450,0.3],[26550,0.22],[26620,0.05],[26660,0.000013],[26710,1e-7],[26770,0.2],[26830,1e-7],[26890,0.25],[26950,1e-7],[27010,0.22],[27070,1e-7],[27130,0.18],[27180,0.3],[27300,0.42],[27400,0.3],[27470,0.02],[27510,0.011],[27560,0.2],[27620,0.45],[27660,0.05],
[27700,0.06],[27770,1e-7],[27840,0.09],[27910,1e-7],[27980,0.05],[28050,1e-7],[28120,0.12],[28190,1e-7],[28260,0.04],[28330,1e-7],[28400,0.1],[28470,1e-7],[28540,0.07],[28610,1e-7],[28680,0.05],[28750,1e-7],[28820,0.09],[28890,1e-7],[28960,0.13],[29030,1e-7],[29100,0.06],[29170,1e-7],[29240,0.1],[29310,1e-7],[29380,0.04],[29450,1e-7],[29520,0.08],[29590,1e-7],[29660,0.11],[29730,1e-7],[29800,0.05],[29870,1e-7],[29940,0.09],[30010,1e-7],[30080,0.14],[30150,1e-7],[30220,0.06],[30290,1e-7],[30360,0.1],[30430,1e-7],[30500,0.07],[30570,1e-7],[30640,0.2],[30710,1e-7],[30780,0.05],[30850,1e-7],[30920,0.09],[30990,1e-7],[31060,0.04],[31130,1e-7],[31200,0.03],[31270,1e-7],[31340,0.08],[31410,1e-7],[31480,0.1],[31550,1e-7],[31620,0.05],[31690,1e-7],[31760,0.12],[31830,1e-7],[31900,0.09],[31970,1e-7],[32040,0.06],[32110,1e-7],[32180,0.1],[32250,1e-7],[32320,0.14],[32390,1e-7],[32460,0.07],[32530,1e-7],[32600,0.11],[32670,1e-7],[32740,0.05],[32810,1e-7],[32880,0.09],[32950,2.5e-5],[33020,0.08],[33090,1e-7],[33160,0.12],[33230,1e-7],[33300,0.07],[33370,1e-7],[33440,0.1],[33510,1e-7],[33580,0.15],[33650,1e-7],[33720,0.08],[33790,1e-7],[33860,0.2],[33930,1e-7],[34000,0.09],[34070,3e-5],[34140,0.05],[34210,1e-7],[34280,0.12],[34350,1e-7],[34420,0.07],[34490,1e-7],[34560,0.1],[34630,1e-7],[34700,0.06],[34770,1e-7],[34840,0.13],[34910,1e-7],[34980,0.09],[35050,1e-7],[35120,0.05],[35190,1e-7],[35260,0.11],[35330,1e-7],[35400,0.08],[35470,1e-7],[35540,0.25],[35610,1e-7],[35680,0.09],[35750,1e-7],[35820,0.12],[35890,1e-7],[35960,0.06],[36000,0.1]];
const dODP = [[22300,0.5],[36000,0.5]];

// tick values
const aYTicks = [1, 10], aYMinor = [0.3,0.4,0.5,0.6,0.7,0.8,0.9,2,3,4,5,6,7,8,9];
const bYTicks = [1], bYMinor = [0.2,0.3,0.4,0.5,0.6,0.7,0.8,0.9,2,3,4,5];
const cYTicks = [0.1, 1, 10], cYMinor = [0.06,0.07,0.08,0.09,0.2,0.3,0.4,0.5,0.6,0.7,0.8,0.9,2,3,4,5,6,7,8,9];
const dYTicks = [1e-5, 1e-4, 1e-3, 1e-2, 1e-1, 1, 10];
const dYMinor = [5e-6,6e-6,7e-6,8e-6,9e-6,2e-5,3e-5,4e-5,5e-5,6e-5,7e-5,8e-5,9e-5,2e-4,3e-4,4e-4,5e-4,6e-4,7e-4,8e-4,9e-4,2e-3,3e-3,4e-3,5e-3,6e-3,7e-3,8e-3,9e-3,0.02,0.03,0.04,0.05,0.06,0.07,0.08,0.09,0.2,0.3,0.4,0.5,0.6,0.7,0.8,0.9,2,3,4,5,6,7,8,9];

// ---------------- RENDER ----------------
const FONT = "DejaVu Sans, Verdana, sans-serif";
const SUP = {"-":"\u207B","0":"\u2070","1":"\u00B9","2":"\u00B2","3":"\u00B3","4":"\u2074","5":"\u2075","6":"\u2076","7":"\u2077","8":"\u2078","9":"\u2079"};
const powFmt = d => "10" + String(Math.round(Math.log10(d))).split("").map(c => SUP[c]).join("");

const W = 428, H = 300;
const panels = [
  {left:0, top:0, ml:47.7, mr:28, mt:3.3, mb:35, xd:[21345,36729], yd:[0.221,11.05], yt:aYTicks, ym:aYMinor,
   obt:aObtained.concat(aObtainedMore), exp:aExpected, odp:aODP, dot:"#c2c200", green:"#0b850b", gw:1.3, dash:"3.5,1.2", lgDash:"3.5,1.5", lgW:1.1, rw:2.4, legend:"top", xlabY:290, ylabX:11.7, cap:captions[0], capX:218, capY:332},
  {left:428, top:0, ml:74, mr:1.3, mt:3.3, mb:34.3, xd:[21528.6,36642.8], yd:[0.187,5.36], yt:bYTicks, ym:bYMinor,
   obt:bObtained, exp:bExpected, odp:bODP, dot:"#c2c200", green:"#0b850b", gw:1, dash:"3.5,1.5", lgDash:"3.5,1.5", lgW:1.1, rw:1.8, legend:"top", xlabY:290, ylabX:38.3, cap:captions[1], capX:664, capY:332},
  {left:0, top:380, ml:46.7, mr:28, mt:11.7, mb:26, xd:[21646,36712], yd:[0.056,11.7], yt:cYTicks, ym:cYMinor,
   obt:cObtained.concat(cObtainedMore), exp:cExpected, odp:cODP, dot:"#b2ac00", green:"#14b414", gw:1.3, dash:"3.5,1", lgDash:"3.5,1.5", lgW:1.2, rw:2.2, legend:"bottom", xlabY:298, ylabX:7.3, cap:captions[2], capX:217, capY:712},
  {left:428, top:380, ml:74, mr:1.3, mt:11.7, mb:26, xd:[21528.6,36642.8], yd:[3.98e-6,12.9], yt:dYTicks, ym:dYMinor,
   obt:dObtained.concat(dObtainedMore), floor:dObtainedFloor, exp:dExpected, odp:dODP, dot:"#c2c200", green:"#0a800a", gw:1.7, dash:"4,2", lgDash:"6,3", lgW:2.6, rw:1.7, legend:"bottom", xlabY:298, ylabX:33.3, cap:captions[3], capX:664, capY:712, dotsOnTop:true}
];

const fig = document.getElementById("fig");
const RED = "#f52222";

for (const p of panels) {
  const div = document.createElement("div");
  div.className = "panel";
  div.style.left = p.left + "px";
  div.style.top = p.top + "px";
  fig.appendChild(div);

  const acc = {x: d => d[0], y: d => d[1]};
  const dots = Plot.dot(p.obt, {...acc, r: 1.45, fill: p.dot, clip: true});
  const expLine = Plot.line(p.exp, {...acc, stroke: p.green, strokeWidth: p.gw, strokeDasharray: p.dash, clip: true});
  const odpLine = Plot.line(p.odp, {...acc, stroke: RED, strokeWidth: p.rw, clip: true});
  const marks = [];
  if (p.dotsOnTop) {
    marks.push(expLine, dots, Plot.dot(p.floor, {...acc, r: 1.6, fill: p.dot, clip: true}));
  } else {
    marks.push(dots, expLine);
  }
  marks.push(odpLine);
  marks.push(
    Plot.axisX({ticks: xTicks, tickFormat: d => String(d), tickSize: 3.5, tickPadding: 2.5, label: null, fontSize: 9.2}),
    Plot.axisY({ticks: p.yt, tickFormat: powFmt, tickSize: 3.5, tickPadding: 2.5, label: null, fontSize: 9.2}),
    Plot.axisY({ticks: p.ym, tickFormat: () => "", tickSize: 2, label: null}),
    Plot.frame({stroke: "#3c3c3c", strokeWidth: 1})
  );

  const chart = Plot.plot({
    width: W, height: H,
    marginLeft: p.ml, marginRight: p.mr, marginTop: p.mt, marginBottom: p.mb,
    x: {domain: p.xd, label: null},
    y: {type: "log", domain: p.yd, label: null},
    style: {fontFamily: FONT, fontSize: "9.2px", color: "#262626", background: "transparent", overflow: "visible"},
    marks
  });
  div.appendChild(chart);

  // overlay: legend and axis titles
  const fl = p.ml, fr = W - p.mr, ft = p.mt, fb = H - p.mb;
  const ov = d3.create("svg").attr("width", W).attr("height", H)
    .style("font-family", FONT).style("overflow", "visible");
  ov.append("text").attr("x", (fl + fr) / 2).attr("y", p.xlabY)
    .attr("text-anchor", "middle").attr("dominant-baseline", "central")
    .attr("font-size", 9.9).attr("fill", "#262626").text(xLabel);
  ov.append("text").attr("transform", `translate(${p.ylabX},${(ft + fb) / 2}) rotate(-90)`)
    .attr("text-anchor", "middle").attr("dominant-baseline", "central")
    .attr("font-size", 9.9).attr("fill", "#262626").text(yLabel);

  const boxTop = p.legend === "top" ? ft + 4 : fb - 52.5;
  const g = ov.append("g");
  g.append("rect").attr("x", fl + 4.5).attr("y", boxTop).attr("width", 117).attr("height", 48.5)
    .attr("rx", 2.5).attr("fill", "#fff").attr("fill-opacity", 0.85).attr("stroke", "#cfcfcf").attr("stroke-width", 0.8);
  const rows = [boxTop + 8.5, boxTop + 24, boxTop + 39];
  g.append("circle").attr("cx", fl + 18).attr("cy", rows[0]).attr("r", 1.45).attr("fill", p.dot);
  g.append("line").attr("x1", fl + 7).attr("x2", fl + 29).attr("y1", rows[1]).attr("y2", rows[1])
    .attr("stroke", p.green).attr("stroke-width", p.lgW).attr("stroke-dasharray", p.lgDash);
  g.append("line").attr("x1", fl + 7).attr("x2", fl + 29).attr("y1", rows[2]).attr("y2", rows[2])
    .attr("stroke", RED).attr("stroke-width", Math.min(p.rw, 1.8));
  legendLabels.forEach((t, i) => {
    g.append("text").attr("x", fl + 35.5).attr("y", rows[i]).attr("dominant-baseline", "central")
      .attr("font-size", 10).attr("fill", "#262626").text(t);
  });
  div.appendChild(ov.node());

  const cap = document.createElement("div");
  cap.className = "cap";
  cap.style.left = p.capX + "px";
  cap.style.top = p.capY + "px";
  cap.textContent = p.cap;
  fig.appendChild(cap);
}
</script></body></html>
